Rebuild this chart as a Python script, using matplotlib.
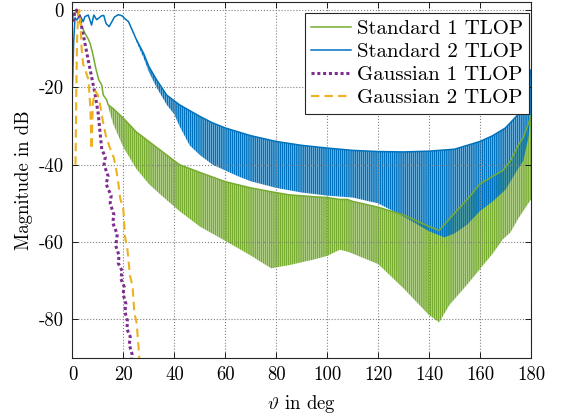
import matplotlib
matplotlib.use('Agg')
import matplotlib.pyplot as plt

plt.rcParams['font.family'] = 'serif'
plt.rcParams['font.serif'] = ['cmr10']
plt.rcParams['mathtext.fontset'] = 'cm'
plt.rcParams['axes.unicode_minus'] = False
plt.rcParams['hatch.linewidth'] = 1.2

# colours (MATLAB default order)
c_green = '#77AC30'
c_blue = '#0072BD'
c_purple = '#7E2F8E'
c_orange = '#EDB120'

########## Standard 1 TLOP ##########
# main lobe (single line)
std1_theta = [0.0, 0.5, 1.5, 2.5, 3.5, 4.9, 6.2, 6.9, 7.6, 8.2, 9.0, 10.3, 11.5, 12.1, 13.4, 14.0]
std1_db = [-3.0, -1.0, -0.3, -1.5, -4.0, -6.0, -7.5, -8.6, -10.3, -12.0, -14.6, -18.0, -19.4, -22.0, -23.2, -24.5]
# fast ripple region, peak / null envelopes
std1_env_theta = [14, 16, 20, 25, 30, 35, 42, 50, 60, 70, 78, 85, 95, 100, 105, 108, 110,
                  120, 130, 140, 144, 148, 155, 160, 165, 169, 172, 175, 177, 180]
std1_upper = [-24.5, -25.5, -28.0, -31.5, -34.0, -36.5, -40.0, -42.0, -44.4, -46.0, -47.0, -47.8,
              -48.3, -48.5, -49.0, -49.0, -49.5, -51.0, -53.0, -56.0, -57.0, -54.0, -49.0, -45.0,
              -43.0, -41.5, -39.0, -35.0, -33.0, -27.5]
std1_lower = [-25.0, -29.5, -35.5, -41.0, -45.0, -48.0, -52.0, -56.0, -59.7, -63.5, -66.8, -66.0,
              -64.5, -63.6, -62.0, -62.5, -63.0, -65.7, -72.0, -78.9, -80.8, -76.3, -71.0, -67.0,
              -63.0, -59.3, -57.5, -54.0, -52.0, -49.0]

########## Standard 2 TLOP ##########
std2_theta = [0.0, 0.5, 1.0, 1.7, 2.9, 4.2, 4.9, 6.2, 7.5, 8.4, 9.5, 10.5, 11.4, 12.3, 13.2,
              14.4, 15.5, 16.5, 18.0, 19.5, 20.5, 22.0, 23.0, 25.0]
std2_db = [-20.0, -8.0, -2.0, -2.6, -1.3, -3.0, -1.7, -1.3, -3.9, -1.3, -2.5, -2.0, -1.5, -1.4,
           -3.5, -4.3, -3.0, -1.8, -1.2, -1.5, -2.2, -3.0, -4.5, -7.5]
std2_env_theta = [25, 28, 30, 33, 37, 40, 42, 46, 50, 55, 60, 65, 70, 80, 90, 100, 110, 120,
                  130, 140, 146, 150, 155, 160, 165, 170, 175, 177, 179, 180]
std2_upper = [-7.5, -11.3, -14.6, -18.0, -22.0, -23.5, -24.5, -26.0, -27.5, -29.2, -30.5, -31.5,
              -32.5, -34.0, -35.0, -35.7, -36.3, -36.6, -36.7, -36.5, -36.2, -36.0, -35.0, -34.0,
              -32.5, -30.5, -27.0, -24.0, -19.0, -15.5]
std2_lower = [-8.0, -12.5, -16.0, -20.0, -24.5, -27.0, -30.0, -35.0, -37.5, -40.0, -41.5, -43.0,
              -44.3, -46.0, -47.2, -48.0, -48.5, -50.0, -53.4, -57.2, -58.8, -57.8, -55.5, -52.0,
              -49.5, -46.5, -41.0, -39.0, -33.0, -27.0]

########## Gaussian 1 TLOP ##########
gau1_theta = [0.3, 0.8, 1.6, 2.4, 3.6, 4.9, 6.2, 7.5, 8.8, 10.1, 11.5, 12.9, 12.4, 14.0, 13.2,
              15.2, 14.8, 16.3, 15.8, 17.6, 17.0, 18.3, 18.0, 19.5, 19.0, 20.3, 19.9, 21.0, 20.6,
              21.6, 21.4, 22.7, 22.3, 23.4, 23.2]
gau1_db = [-3.0, -1.0, 0.0, -0.8, -4.3, -8.6, -13.0, -17.2, -21.5, -26.7, -36.0, -38.0, -40.0,
           -43.0, -45.0, -48.0, -50.0, -53.0, -55.0, -58.0, -61.0, -63.5, -65.5, -67.5, -69.5,
           -71.5, -73.5, -76.0, -78.0, -80.5, -82.5, -84.5, -86.5, -89.0, -91.0]

########## Gaussian 2 TLOP ##########
gau2_theta = [1.2, 1.5, 1.8, 2.2, 2.7, 3.2, 3.6, 4.2, 5.0, 6.3, 7.0, 7.5, 8.0, 9.0, 10.0,
              11.0, 12.0, 13.3, 14.9, 16.3, 17.3, 18.0, 18.7, 20.0, 20.6, 21.6, 22.6,
              23.6, 24.3, 25.2, 26.0, 26.4]
gau2_db = [-40.0, -22.0, -8.0, -1.5, 0.0, -4.0, -10.0, -14.0, -15.5, -18.0, -25.0, -36.0, -24.0,
           -21.0, -22.0, -25.0, -29.0, -33.0, -36.0, -38.3, -41.7, -44.7, -48.6, -51.6, -58.5,
           -62.0, -68.8, -71.4, -78.3, -80.9, -87.7, -92.0]

fig = plt.figure(figsize=(5.66, 4.17), dpi=100)
ax = fig.add_axes([0.128, 0.1415, 0.81, 0.853])

# Standard 1
ax.fill_between(std1_env_theta, std1_lower, std1_upper, facecolor='none',
                edgecolor=c_green, hatch='|' * 8, linewidth=0)
ax.plot(std1_theta + std1_env_theta, std1_db + std1_upper, color=c_green, lw=1.1,
        label='Standard 1 TLOP')
# Standard 2
ax.fill_between(std2_env_theta, std2_lower, std2_upper, facecolor='none',
                edgecolor=c_blue, hatch='|' * 8, linewidth=0)
ax.plot(std2_theta + std2_env_theta, std2_db + std2_upper, color=c_blue, lw=1.1,
        label='Standard 2 TLOP')
# Gaussian
ax.plot(gau1_theta, gau1_db, color=c_purple, lw=2.2, linestyle=(0, (1, 0.9)),
        label='Gaussian 1 TLOP')
ax.plot(gau2_theta, gau2_db, color=c_orange, lw=1.5, linestyle=(0, (4, 2.5)),
        label='Gaussian 2 TLOP')

ax.set_xlim(0, 180)
ax.set_ylim(-90, 2)
ax.set_xticks(range(0, 181, 20))
ax.set_yticks([-80, -60, -40, -20, 0])
ax.grid(True, color='#808080', linestyle=':', linewidth=0.8)
ax.tick_params(direction='in', top=True, right=True, length=4, width=0.6,
               labelsize=13.5, pad=6)
for s in ax.spines.values():
    s.set_linewidth(0.8)
    s.set_color('#262626')

ax.set_xlabel(r'$\vartheta$ in deg', fontsize=13.5, labelpad=6)
ax.set_ylabel('Magnitude in dB', fontsize=13.5, labelpad=4)

leg = ax.legend(loc='upper right', bbox_to_anchor=(0.996, 0.970), borderaxespad=0,
                fontsize=15, fancybox=False, framealpha=1, edgecolor='#262626',
                borderpad=0.3, labelspacing=0.22, handlelength=1.9, handletextpad=0.3)
leg.get_frame().set_linewidth(0.8)

fig.savefig('out.png', dpi=100)
